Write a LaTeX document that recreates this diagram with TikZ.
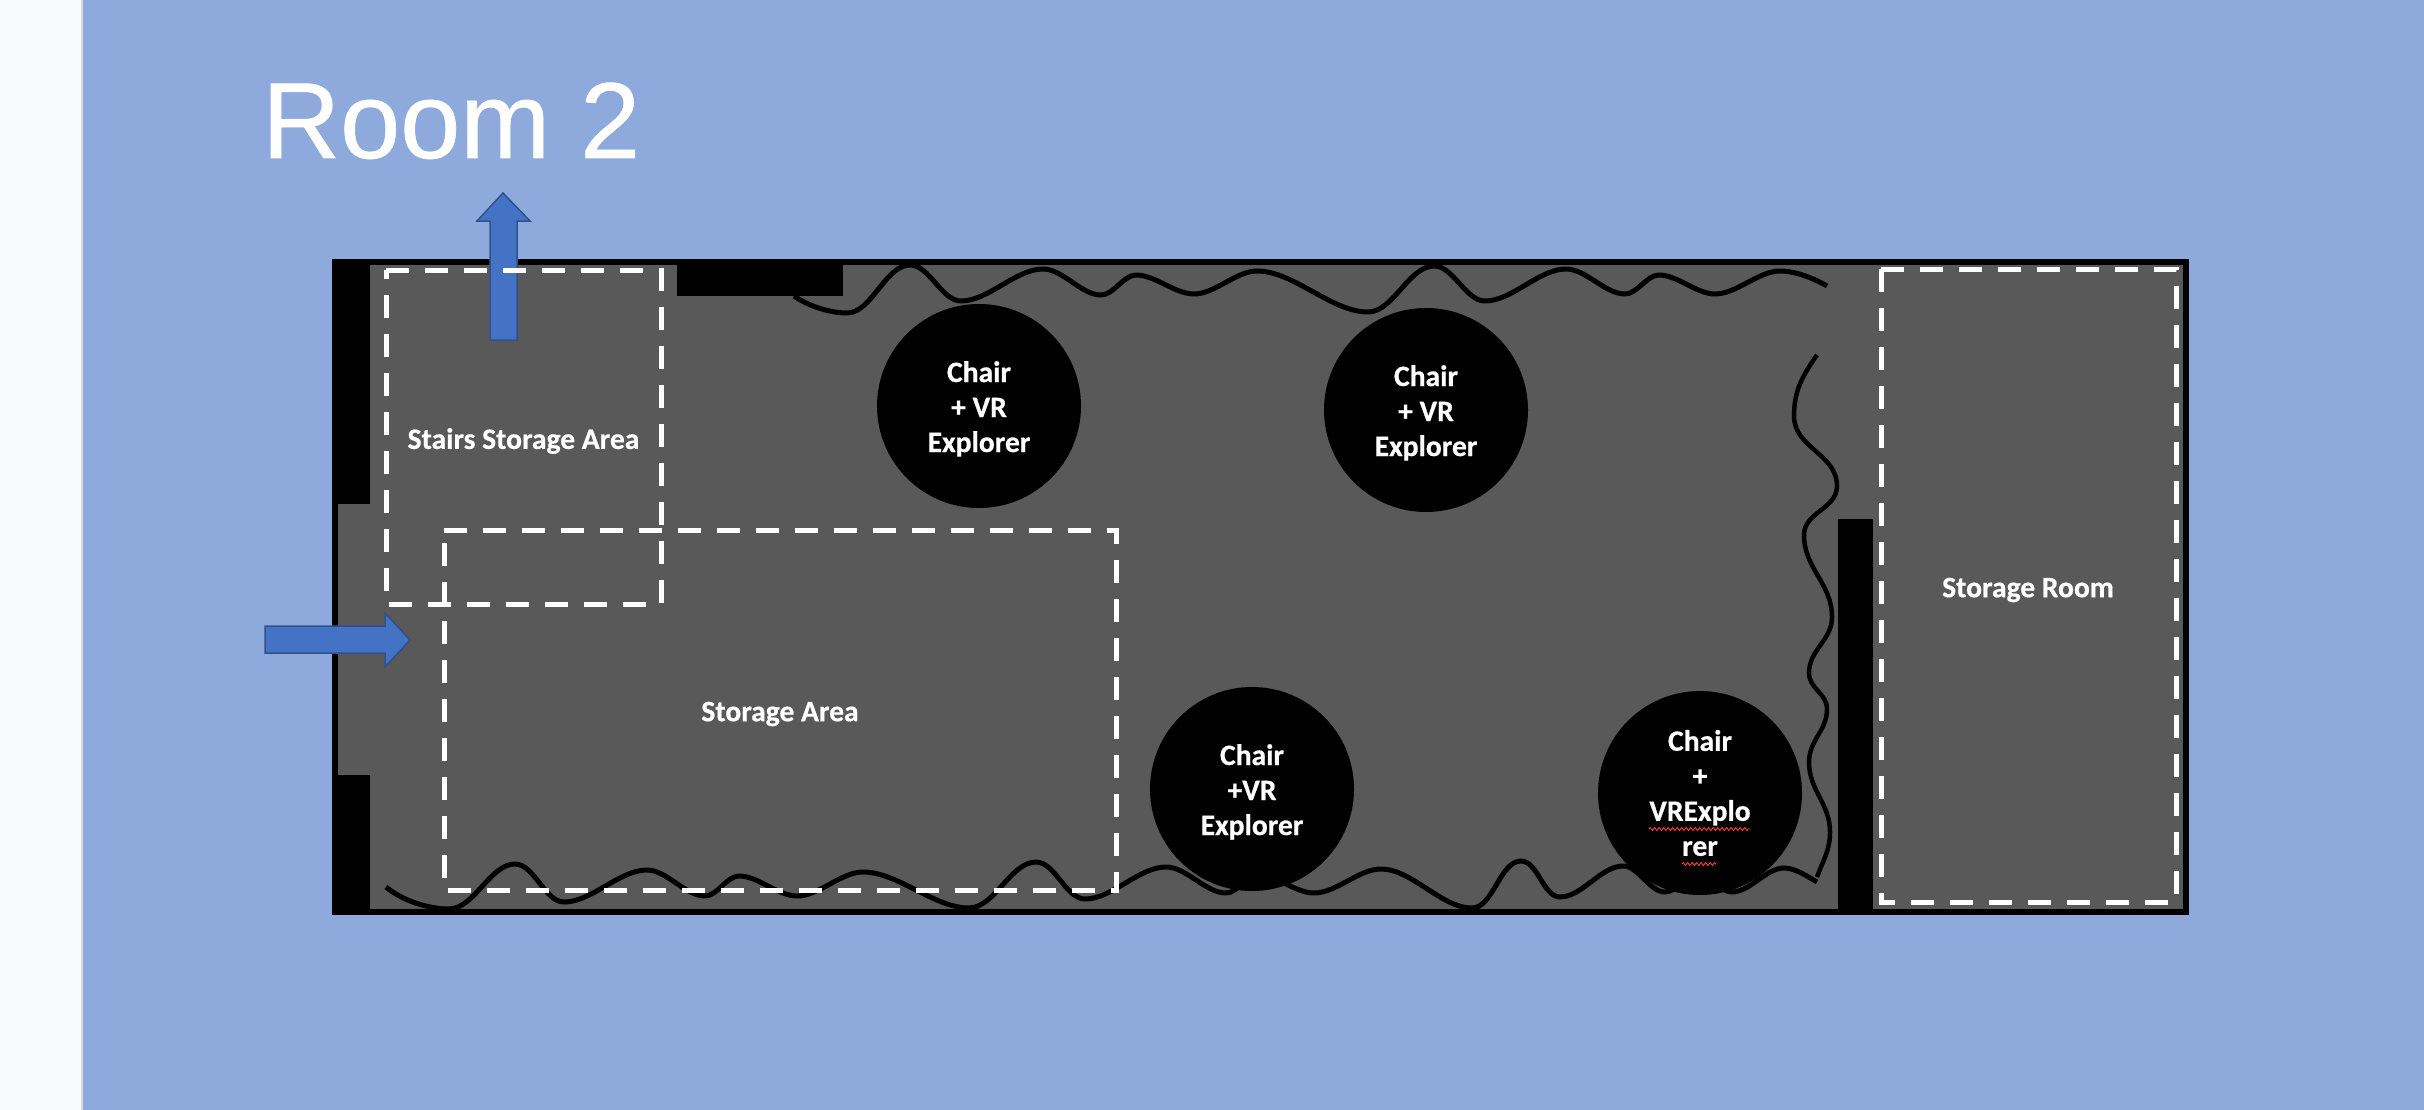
\documentclass[tikz,border=0pt]{standalone}
\usepackage{fontspec}
\setmainfont[BoldFeatures={FakeBold=0.6}]{Carlito}
\newfontfamily\titlefont[FakeBold=0.6]{Liberation Sans}
\usetikzlibrary{shapes.arrows,decorations.pathmorphing}
\definecolor{bluebg}{HTML}{8EA9DB}
\definecolor{leftstrip}{HTML}{F8F9FA}
\definecolor{roomgray}{HTML}{595959}
\definecolor{arrowfill}{HTML}{4472C4}
\definecolor{arrowline}{HTML}{2F528F}
\newcommand{\chairtext}[3]{\raisebox{0pt}[\dimexpr\height+8pt\relax][\depth]{\begin{tabular}{@{}c@{}}#1\\#2\\#3\end{tabular}}}
\tikzset{
  x=1pt,y=-1pt,
  wall/.style={fill=black,draw=none},
  zone/.style={draw=white,line width=5pt,dash pattern=on 23pt off 16pt},
  curtain/.style={draw=black,line width=5pt,line join=round,every to/.style={out=0,in=180,looseness=0.8}},
  vcurtain/.style={draw=black,line width=4.5pt,line join=round,every to/.style={out=-90,in=90}},
  chair/.style={circle,fill=black,text=white,inner sep=0pt,minimum size=204pt,align=center,font=\bfseries\fontsize{29.6}{35}\selectfont},
  label/.style={text=white,inner sep=0pt,align=center,font=\bfseries\fontsize{29.6}{35}\selectfont},
  flow/.style={fill=arrowfill,draw=arrowline,line width=1.5pt,line join=miter},
  spell/.style={draw=red!75!white,line width=0.9pt,decorate,decoration={zigzag,segment length=4.5pt,amplitude=1.5pt}}
}
\begin{document}
\begin{tikzpicture}
\useasboundingbox (0,0) rectangle (2424,1110);
\fill[bluebg] (0,0) rectangle (2424,1110);
\fill[leftstrip] (0,0) rectangle (81,1110);
\fill[black!14] (81,0) rectangle (83,1110);
% room
\draw[fill=roomgray,draw=black,line width=6pt] (335,262) rectangle (2186,912);
% walls
\fill[wall] (332,259) rectangle (370,504);
\fill[wall] (332,775) rectangle (370,915);
\fill[wall] (677,259) rectangle (843,296);
\fill[wall] (1838,519) rectangle (1873,915);
% curtains
\path[curtain] (794,296) to[out=-35] (847,313) to (910,265) to (961,301) to (1043,269) to (1101,295) to (1136,275) to (1194,294) to (1257,271) to (1368,312) to (1434,266) to (1485,301) to (1566,269) to (1625,294) to (1659,275) to (1715,294) to (1780,271) to[in=150] (1827,286);
\path[curtain] (386,887) to[out=-40] (449,909) to (515,864) to (564,902) to (647,870) to (705,896) to (739,876) to (797,896) to (863,872) to (969,908) to (1036,862) to (1085,899) to (1166,867) to (1226,893) to (1258,875) to (1314,893) to (1381,869) to (1472,908) to (1521,861) to (1560,897) to (1623,866) to (1665,892) to (1698,875) to (1732,892) to (1784,868) to[in=150] (1817,882);
\path[vcurtain] (1817,355) to[out=-125] (1794,416) to (1837,486) to (1804,535) to (1832,617) to (1809,673) to (1827,709) to (1809,762) to (1830,832) to[in=70] (1817,877);
% arrows
\draw[flow] (490,340) -- (490,221) -- (477,221) -- (503,193) -- (530,221) -- (517,221) -- (517,340) -- cycle;
\draw[flow] (265,626) -- (385,626) -- (385,613) -- (410,640) -- (385,667) -- (385,653) -- (265,653) -- cycle;
% dashed zones
\draw[zone] (386,270) -- (661,270) -- (661,604) -- (386,604) -- cycle;
\draw[zone] (444,530) -- (1116,530) -- (1116,890) -- (444,890) -- cycle;
\draw[zone] (1881,269) -- (2176,269) -- (2176,902) -- (1881,902) -- cycle;
% chairs
\node[chair] (c1) at (979,406) {\chairtext{Chair}{+ VR}{Explorer}};
\node[chair] (c2) at (1426,410) {\chairtext{Chair}{+ VR}{Explorer}};
\node[chair] (c3) at (1252,789) {\chairtext{Chair}{+VR}{Explorer}};
\node[chair] (c4) at (1700,793) {Chair\\+\\VRExplo\\rer};
\draw[spell] (1649,829) -- (1750,829);
\draw[spell] (1682,864) -- (1716,864);
% labels
\node[label] (stairs) at (523.5,441) {Stairs Storage Area};
\node[label] (area) at (780,714) {Storage Area};
\node[label] (sroom) at (2028,590) {Storage Room};
\node[text=white,inner sep=0pt,anchor=base west,font=\titlefont\fontsize{108}{108}\selectfont] (title) at (262,158) {Room 2};
\end{tikzpicture}
\end{document}
